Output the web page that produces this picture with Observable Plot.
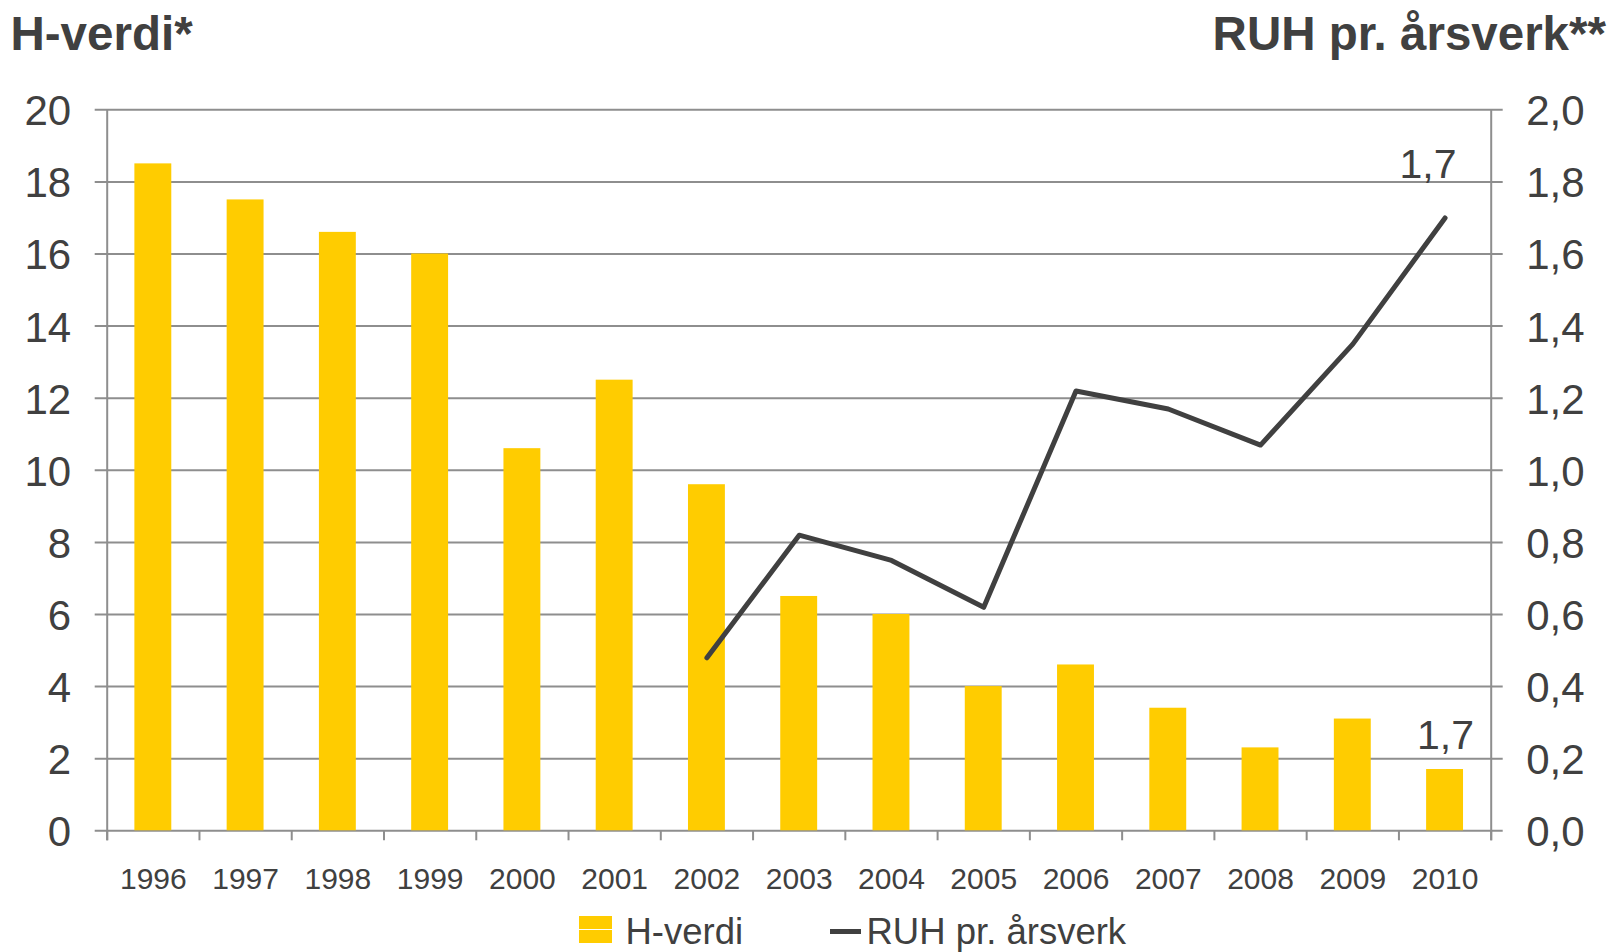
<!DOCTYPE html>
<html>
<head>
<meta charset="utf-8">
<script src="https://cdn.jsdelivr.net/npm/d3@7"></script>
<script src="https://cdn.jsdelivr.net/npm/@observablehq/plot@0.6"></script>
<style>
  html, body { margin: 0; padding: 0; background: #fff; }
  body { font-family: "Liberation Sans", Arial, sans-serif; color: #404040; }
  #wrap { width: 1612px; height: 952px; position: relative; overflow: hidden; }
  #header { position: relative; height: 62px; }
  #legend { position: relative; height: 50px; }
  .t { position: absolute; white-space: nowrap; line-height: 1; }
  #chart svg { display: block; }
</style>
</head>
<body>
<div id="wrap">
  <div id="header">
    <span class="t" id="titleL" style="left:10.5px; top:10px; font-size:47.5px; font-weight:bold;">H-verdi*</span>
    <span class="t" id="titleR" style="right:6px; top:9.8px; font-size:47.5px; font-weight:bold;">RUH pr. årsverk**</span>
  </div>
  <div id="chart"></div>
  <div id="legend">
    <div style="position:absolute; left:579px; top:14px; width:33px; height:27px; background:#FFCC00;"></div>
    <div style="position:absolute; left:579px; top:26.5px; width:33px; height:1.5px; background:#fff;"></div>
    <span class="t" style="left:625.5px; top:12.1px; font-size:36.5px;">H-verdi</span>
    <div style="position:absolute; left:830px; top:27.2px; width:31px; height:5px; background:#404040;"></div>
    <span class="t" style="left:866.5px; top:12.1px; font-size:36.5px;">RUH pr. årsverk</span>
  </div>
</div>
<script>
// ---- data ----
const years = [1996, 1997, 1998, 1999, 2000, 2001, 2002, 2003, 2004, 2005, 2006, 2007, 2008, 2009, 2010];
const hVerdi = [18.5, 17.5, 16.6, 16.0, 10.6, 12.5, 9.6, 6.5, 6.0, 4.0, 4.6, 3.4, 2.3, 3.1, 1.7];
const ruhYears = [2002, 2003, 2004, 2005, 2006, 2007, 2008, 2009, 2010];
const ruhValues = [0.48, 0.82, 0.75, 0.62, 1.22, 1.17, 1.07, 1.35, 1.70];
const leftTicks = [0, 2, 4, 6, 8, 10, 12, 14, 16, 18, 20];
const rightTicks = [0, 0.2, 0.4, 0.6, 0.8, 1.0, 1.2, 1.4, 1.6, 1.8, 2.0];
const ratio = 10; // right axis (0–2) mapped onto left axis (0–20)

const bars = years.map((year, i) => ({year, h: hVerdi[i]}));
const ruh = ruhYears.map((year, i) => ({year, v: ruhValues[i]}));
const bounds = [years[0] - 0.5, ...years.map(y => y + 0.5)];
const fmt = v => v.toFixed(1).replace(".", ",");

const GRID = "#8e8e8e";
const TEXT = "#404040";
const YELLOW = "#FFCC00";

const chart = Plot.plot({
  width: 1612,
  height: 840,
  marginLeft: 106.7,
  marginRight: 121.3,
  marginTop: 47.3,
  marginBottom: 71.7,
  x: {type: "linear", domain: [years[0] - 0.5, years[years.length - 1] + 0.5], axis: null},
  y: {domain: [0, 20], axis: null},
  style: {fontFamily: '"Liberation Sans", Arial, sans-serif', color: TEXT, background: "white", overflow: "visible"},
  marks: [
    Plot.ruleY(leftTicks, {y: d => d, stroke: GRID, strokeWidth: 2, insetLeft: -12, insetRight: -12}),
    Plot.ruleX([bounds[0], bounds[bounds.length - 1]], {x: d => d, stroke: GRID, strokeWidth: 2, insetBottom: -10}),
    Plot.ruleX(bounds, {x: d => d, y1: 0, y2: 0, stroke: GRID, strokeWidth: 2, insetBottom: -10}),
    Plot.rectY(bars, {x1: d => d.year - 0.2, x2: d => d.year + 0.2, y: "h", fill: YELLOW}),
    Plot.line(ruh, {x: "year", y: d => d.v * ratio, stroke: TEXT, strokeWidth: 5, strokeLinecap: "round"}),
    Plot.text(years, {x: d => d, text: d => String(d), frameAnchor: "bottom", dy: 57.7, lineAnchor: "bottom", fontSize: 30, fill: TEXT}),
    Plot.text(leftTicks, {y: d => d, text: d => String(d), frameAnchor: "left", textAnchor: "end", dx: -36, dy: 2, lineAnchor: "middle", fontSize: 42, fill: TEXT}),
    Plot.text(rightTicks, {y: d => d * ratio, text: d => fmt(d), frameAnchor: "right", textAnchor: "start", dx: 35, dy: 2, lineAnchor: "middle", fontSize: 42, fill: TEXT}),
    Plot.text(bars.slice(-1), {x: "year", y: "h", text: d => fmt(d.h), dy: -21, dx: 0.5, lineAnchor: "bottom", fontSize: 41, fill: TEXT}),
    Plot.text(ruh.slice(-1), {x: "year", y: d => d.v * ratio, text: d => fmt(d.v), dx: -17, dy: -40, lineAnchor: "bottom", fontSize: 41, fill: TEXT})
  ]
});
document.getElementById("chart").appendChild(chart);
</script>
</body>
</html>
